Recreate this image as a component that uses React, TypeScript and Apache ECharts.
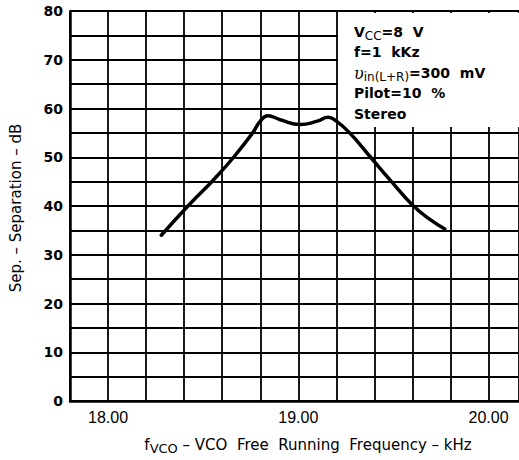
import React, { useEffect, useRef } from "react";
import * as echarts from "echarts";

const freq = [18.28, 18.42, 18.56, 18.66, 18.76, 18.80, 18.84, 18.905, 19.01, 19.10, 19.157, 19.20, 19.27, 19.38, 19.49, 19.60, 19.69, 19.77];
const sep = [34, 40, 45.6, 50, 55, 57.4, 58.5, 57.7, 56.7, 57.4, 58.2, 57.4, 55, 50, 45, 40.2, 37.3, 35.3];

const xMin = 17.8;
const xMax = 20.16;
const xStep = 0.2;
const yMin = 0;
const yMax = 80;
const yStep = 5;

const legendLines = [
  "{m|V}{s|CC}{m|=8  V}",
  "{m|f=1  kKz}",
  "{u|υ}{s|in(L+R)}{m|=300  mV}",
  "{m|Pilot=10  %}",
  "{m|Stereo}",
];

const FONT = "DejaVu Sans";

export default function App() {
  const ref = useRef<HTMLDivElement>(null);
  useEffect(() => {
    if (!ref.current) return;
    const chart = echarts.init(ref.current, null, { renderer: "svg" });
    const data = freq.map((f, i) => [f, sep[i]]);
    const richBase = {
      m: { fontSize: 14, fontWeight: "bold", fontFamily: FONT, color: "#000", lineHeight: 20 },
      u: { fontSize: 16, fontStyle: "italic", fontFamily: "DejaVu Serif", color: "#000", lineHeight: 20 },
      s: { fontSize: 12, fontFamily: FONT, color: "#000", lineHeight: 12, verticalAlign: "bottom" },
    };
    const lineY = [32, 52, 73, 93, 114];
    chart.setOption({
      animation: false,
      backgroundColor: "#fff",
      grid: { left: 70, right: 0, top: 11, bottom: 59, containLabel: false },
      xAxis: {
        type: "value",
        min: xMin,
        max: xMax,
        interval: xStep,
        axisLine: { show: true, onZero: false, lineStyle: { color: "#000", width: 2.5 } },
        axisTick: { show: false },
        splitLine: { show: true, lineStyle: { color: "#000", width: 1.8 } },
        axisLabel: {
          color: "#000",
          fontFamily: "Liberation Sans",
          fontSize: 16,
          margin: 8,
          showMaxLabel: false,
          formatter: (v: number) => (Math.abs(v - Math.round(v)) < 1e-6 ? v.toFixed(2) : ""),
        },
      },
      yAxis: {
        type: "value",
        min: yMin,
        max: yMax,
        interval: yStep,
        axisLine: { show: true, lineStyle: { color: "#000", width: 2.5 } },
        axisTick: { show: false },
        splitLine: { show: true, lineStyle: { color: "#000", width: 1.8 } },
        axisLabel: {
          color: "#000",
          fontFamily: FONT,
          fontWeight: "bold",
          fontSize: 14,
          margin: 7,
          formatter: (v: number) => (v % 10 === 0 ? String(v) : ""),
        },
      },
      series: [
        {
          type: "line",
          data,
          smooth: 0.5,
          showSymbol: false,
          symbol: "none",
          z: 5,
          lineStyle: { color: "#000", width: 3.5, cap: "round", join: "round" },
        },
      ],
      graphic: [
        {
          type: "rect",
          z: 3,
          shape: { x: 338, y: 13, width: 190, height: 114 },
          style: { fill: "#fff" },
        },
        ...legendLines.map((t, i) => ({
          type: "text",
          z: 6,
          x: 354,
          y: lineY[i],
          style: {
            text: t,
            rich: richBase,
            verticalAlign: "middle",
            align: "left",
          },
        })),
        {
          type: "text",
          z: 6,
          x: 308,
          y: 445,
          style: {
            text: "{m|f}{s|VCO}{m| – VCO  Free  Running  Frequency – kHz}",
            align: "center",
            verticalAlign: "middle",
            rich: {
              m: { fontSize: 15, fontFamily: FONT, color: "#000", lineHeight: 20 },
              s: { fontSize: 13, fontFamily: FONT, color: "#000", lineHeight: 14, verticalAlign: "bottom" },
            },
          },
        },
        {
          type: "text",
          z: 6,
          x: 16,
          y: 208,
          rotation: Math.PI / 2,
          style: {
            text: "Sep. – Separation – dB",
            fontSize: 15,
            fontFamily: FONT,
            fill: "#000",
            align: "center",
            verticalAlign: "middle",
          },
        },
      ],
    });
    return () => chart.dispose();
  }, []);
  return <div ref={ref} style={{ position: "fixed", left: 0, top: 0, width: 519, height: 460 }} />;
}
